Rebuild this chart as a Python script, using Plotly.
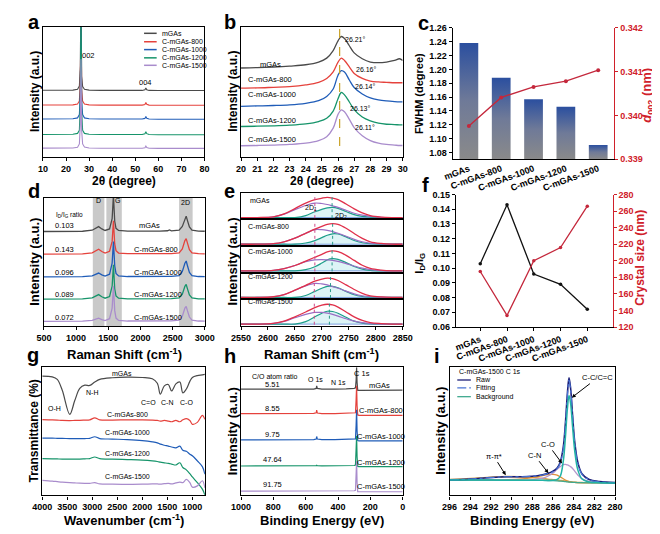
import plotly.graph_objects as go

W, H = 660, 534
FONT = "Liberation Sans"

# ---------------- data ----------------
names = ["mGAs", "C-mGAs-800", "C-mGAs-1000", "C-mGAs-1200", "C-mGAs-1500"]
colors = ["#4a4a4a", "#e5423c", "#1f5cb8", "#16946a", "#a98ccc"]

# (a) XRD wide scan
a_x = [10, 15, 20, 23, 25, 25.8, 26.2, 26.5, 26.8, 27.2, 28, 30, 35, 40, 45, 50, 53, 54.2, 54.6, 55.0, 56, 60, 70, 80]
a_mgas = [0.512, 0.511, 0.511, 0.513, 0.52, 0.545, 0.7, 1.3, 0.62, 0.54, 0.52, 0.513, 0.511, 0.51, 0.51, 0.51, 0.511, 0.516, 0.53, 0.516, 0.511, 0.51, 0.51, 0.51]
a_800 = [0.399, 0.398, 0.398, 0.4, 0.407, 0.43, 0.6, 1.1, 0.52, 0.43, 0.407, 0.4, 0.398, 0.397, 0.397, 0.397, 0.398, 0.403, 0.418, 0.404, 0.398, 0.397, 0.397, 0.397]
a_1000 = [0.292, 0.291, 0.291, 0.293, 0.3, 0.325, 0.5, 1.05, 0.43, 0.325, 0.3, 0.293, 0.291, 0.29, 0.29, 0.29, 0.291, 0.296, 0.31, 0.297, 0.291, 0.29, 0.29, 0.29]
a_1200 = [0.173, 0.172, 0.172, 0.174, 0.181, 0.205, 0.42, 1.2, 0.35, 0.205, 0.181, 0.174, 0.172, 0.171, 0.171, 0.171, 0.172, 0.178, 0.193, 0.179, 0.172, 0.171, 0.171, 0.171]
a_1500 = [0.068, 0.067, 0.067, 0.069, 0.075, 0.1, 0.25, 0.75, 0.2, 0.1, 0.076, 0.069, 0.067, 0.066, 0.066, 0.066, 0.067, 0.071, 0.083, 0.072, 0.067, 0.066, 0.066, 0.066]
a_peak_labels = ["002", "004"]

# (b) XRD (002) detail
b_x = [20, 21, 22, 23, 24, 24.8, 25.3, 25.7, 26.0, 26.2, 26.4, 26.7, 27.0, 27.5, 28, 28.5, 29, 29.5, 29.8, 30]
b_mgas = [0.683, 0.686, 0.691, 0.698, 0.708, 0.729, 0.759, 0.817, 0.892, 0.925, 0.910, 0.854, 0.799, 0.754, 0.729, 0.724, 0.729, 0.741, 0.754, 0.741]
b_800 = [0.528, 0.530, 0.535, 0.540, 0.553, 0.573, 0.603, 0.653, 0.728, 0.759, 0.741, 0.691, 0.641, 0.603, 0.583, 0.576, 0.573, 0.570, 0.570, 0.570]
b_1000 = [0.389, 0.392, 0.395, 0.400, 0.412, 0.432, 0.465, 0.522, 0.628, 0.663, 0.653, 0.591, 0.533, 0.483, 0.453, 0.438, 0.430, 0.425, 0.423, 0.423]
b_1200 = [0.234, 0.236, 0.239, 0.244, 0.254, 0.272, 0.297, 0.352, 0.447, 0.495, 0.477, 0.422, 0.364, 0.307, 0.277, 0.259, 0.251, 0.249, 0.246, 0.246]
b_1500 = [0.086, 0.088, 0.091, 0.096, 0.106, 0.126, 0.156, 0.221, 0.327, 0.362, 0.347, 0.289, 0.226, 0.163, 0.126, 0.106, 0.096, 0.091, 0.088, 0.088]
b_peak_pos = ["26.21°", "26.16°", "26.14°", "26.13°", "26.11°"]
b_ref_line = 26.1

# (c) FWHM and d002
c_fwhm = [1.238, 1.188, 1.157, 1.146, 1.091]
c_d002 = [0.33976, 0.34041, 0.34065, 0.34078, 0.34103]

# (d) Raman spectra
d_x = [500, 800, 1100, 1250, 1300, 1350, 1400, 1450, 1520, 1560, 1580, 1600, 1620, 1660, 1800, 2000, 2300, 2420, 2450, 2480, 2600, 2650, 2690, 2710, 2730, 2760, 2800, 2900, 3000]
d_mgas = [0.737, 0.737, 0.739, 0.747, 0.759, 0.775, 0.757, 0.745, 0.757, 0.837, 1.02, 0.817, 0.762, 0.745, 0.740, 0.739, 0.740, 0.743, 0.749, 0.742, 0.747, 0.777, 0.842, 0.857, 0.822, 0.772, 0.747, 0.740, 0.739]
d_800 = [0.561, 0.561, 0.563, 0.571, 0.583, 0.599, 0.581, 0.569, 0.583, 0.66, 0.821, 0.64, 0.588, 0.569, 0.564, 0.563, 0.564, 0.565, 0.566, 0.565, 0.571, 0.601, 0.666, 0.681, 0.646, 0.596, 0.571, 0.564, 0.563]
d_1000 = [0.383, 0.383, 0.385, 0.391, 0.400, 0.413, 0.399, 0.39, 0.404, 0.49, 0.658, 0.47, 0.41, 0.391, 0.386, 0.385, 0.386, 0.387, 0.388, 0.387, 0.393, 0.425, 0.49, 0.507, 0.47, 0.418, 0.393, 0.386, 0.385]
d_1200 = [0.209, 0.209, 0.211, 0.219, 0.23, 0.245, 0.228, 0.217, 0.23, 0.31, 0.477, 0.29, 0.235, 0.217, 0.212, 0.211, 0.212, 0.213, 0.214, 0.213, 0.219, 0.248, 0.31, 0.324, 0.29, 0.243, 0.219, 0.212, 0.211]
d_1500 = [0.036, 0.036, 0.038, 0.044, 0.052, 0.061, 0.05, 0.043, 0.057, 0.14, 0.311, 0.12, 0.062, 0.044, 0.039, 0.038, 0.039, 0.04, 0.041, 0.04, 0.046, 0.076, 0.14, 0.153, 0.118, 0.07, 0.046, 0.039, 0.038]
d_band_names = ["D", "G", "2D"]
d_band_lo = [1260, 1470, 2600]
d_band_hi = [1440, 1710, 2810]
d_ratio = ["0.103", "0.143", "0.096", "0.089", "0.072"]

# (e) 2D band fitting, one box per sample
e_x = [2550, 2580, 2610, 2630, 2650, 2670, 2687, 2700, 2710, 2720, 2730, 2745, 2760, 2775, 2790, 2810, 2830, 2850]
e_total = [
    [0, 0, 0.03, 0.15, 0.37, 0.60, 0.74, 0.80, 0.83, 0.80, 0.74, 0.56, 0.36, 0.19, 0.08, 0.02, 0, 0],
    [0, 0, 0.02, 0.10, 0.25, 0.45, 0.62, 0.74, 0.82, 0.85, 0.82, 0.66, 0.44, 0.24, 0.10, 0.03, 0, 0],
    [0, 0, 0.02, 0.09, 0.22, 0.40, 0.56, 0.68, 0.78, 0.82, 0.79, 0.64, 0.43, 0.23, 0.10, 0.03, 0, 0],
    [0, 0, 0.03, 0.12, 0.30, 0.50, 0.67, 0.76, 0.80, 0.78, 0.70, 0.52, 0.33, 0.17, 0.07, 0.02, 0, 0],
    [0, 0, 0.03, 0.12, 0.30, 0.50, 0.68, 0.78, 0.82, 0.79, 0.70, 0.50, 0.30, 0.15, 0.06, 0.02, 0, 0],
]
e_2d1 = [
    [0, 0, 0.03, 0.14, 0.33, 0.50, 0.60, 0.58, 0.54, 0.48, 0.42, 0.30, 0.18, 0.10, 0.05, 0.01, 0, 0],
    [0, 0, 0.02, 0.10, 0.25, 0.45, 0.60, 0.60, 0.57, 0.52, 0.45, 0.33, 0.20, 0.10, 0.04, 0.01, 0, 0],
    [0, 0, 0.02, 0.09, 0.22, 0.38, 0.45, 0.46, 0.45, 0.43, 0.39, 0.30, 0.20, 0.11, 0.05, 0.01, 0, 0],
    [0, 0, 0.03, 0.12, 0.30, 0.48, 0.58, 0.56, 0.52, 0.45, 0.38, 0.26, 0.15, 0.07, 0.03, 0.01, 0, 0],
    [0, 0, 0.03, 0.11, 0.26, 0.40, 0.48, 0.48, 0.45, 0.40, 0.33, 0.22, 0.12, 0.06, 0.02, 0, 0, 0],
]
e_2d2 = [
    [0, 0, 0, 0, 0, 0.08, 0.24, 0.34, 0.40, 0.42, 0.38, 0.25, 0.12, 0.05, 0.02, 0, 0, 0],
    [0, 0, 0, 0, 0, 0.05, 0.15, 0.27, 0.37, 0.43, 0.42, 0.30, 0.15, 0.06, 0.02, 0, 0, 0],
    [0, 0, 0, 0, 0, 0.05, 0.17, 0.32, 0.45, 0.50, 0.47, 0.34, 0.18, 0.07, 0.02, 0, 0, 0],
    [0, 0, 0, 0, 0, 0.08, 0.25, 0.38, 0.46, 0.46, 0.40, 0.25, 0.11, 0.04, 0.01, 0, 0, 0],
    [0, 0, 0, 0, 0, 0.10, 0.30, 0.45, 0.53, 0.52, 0.45, 0.28, 0.12, 0.04, 0.01, 0, 0, 0],
]
e_baseline = [0.0] * 18
e_2d1_pos = [2687, 2687, 2687, 2686, 2686]
e_2d2_pos = [2719, 2720, 2719, 2716, 2714]

# (f) ID/IG and crystal size
f_id_ig = [0.103, 0.143, 0.096, 0.089, 0.072]
f_size = [187, 134, 200, 216, 266]

# (g) FTIR
g_x = [4000, 3800, 3700, 3600, 3450, 3350, 3250, 3150, 3050, 2950, 2850, 2600, 2300, 2000, 1800, 1700, 1640, 1560, 1480, 1415, 1330, 1250, 1190, 1120, 1050, 1000, 900, 800, 750]
g_mgas = [0.931, 0.925, 0.905, 0.82, 0.633, 0.74, 0.835, 0.86, 0.858, 0.885, 0.905, 0.918, 0.923, 0.92, 0.91, 0.875, 0.79, 0.855, 0.865, 0.815, 0.87, 0.885, 0.80, 0.83, 0.89, 0.92, 0.935, 0.94, 0.944]
g_800 = [0.592, 0.59, 0.588, 0.585, 0.584, 0.585, 0.586, 0.588, 0.59, 0.605, 0.59, 0.588, 0.59, 0.59, 0.588, 0.585, 0.58, 0.585, 0.58, 0.575, 0.585, 0.575, 0.59, 0.60, 0.585, 0.555, 0.57, 0.625, 0.595]
g_1000 = [0.447, 0.447, 0.446, 0.445, 0.444, 0.443, 0.443, 0.444, 0.446, 0.458, 0.444, 0.440, 0.436, 0.428, 0.418, 0.410, 0.400, 0.392, 0.385, 0.378, 0.372, 0.385, 0.352, 0.345, 0.322, 0.31, 0.27, 0.225, 0.166]
g_1200 = [0.287, 0.286, 0.285, 0.284, 0.283, 0.283, 0.284, 0.286, 0.288, 0.30, 0.287, 0.283, 0.28, 0.276, 0.27, 0.265, 0.26, 0.255, 0.25, 0.245, 0.238, 0.255, 0.218, 0.20, 0.17, 0.145, 0.10, 0.05, 0.005]
g_1500 = [0.118, 0.112, 0.108, 0.104, 0.10, 0.098, 0.096, 0.095, 0.095, 0.10, 0.09, 0.088, 0.087, 0.088, 0.09, 0.09, 0.088, 0.092, 0.095, 0.09, 0.098, 0.105, 0.10, 0.125, 0.10, 0.065, 0.075, 0.115, 0.06]
g_bands = ["O-H", "N-H", "C=O", "C-N", "C-O"]

# (h) XPS survey
h_x = [1000, 900, 800, 700, 600, 550, 535, 532, 528, 500, 420, 400, 350, 300, 292, 288, 285, 282, 278, 270, 200, 100, 0]
h_mgas = [0.829, 0.829, 0.829, 0.829, 0.83, 0.83, 0.835, 0.855, 0.835, 0.83, 0.83, 0.832, 0.832, 0.835, 0.84, 0.9, 1.0, 0.88, 0.82, 0.82, 0.822, 0.822, 0.822]
h_800 = [0.638, 0.638, 0.638, 0.638, 0.639, 0.64, 0.645, 0.665, 0.643, 0.639, 0.639, 0.64, 0.64, 0.642, 0.645, 0.75, 0.855, 0.70, 0.628, 0.625, 0.625, 0.625, 0.625]
h_1000 = [0.434, 0.434, 0.434, 0.434, 0.435, 0.435, 0.44, 0.46, 0.44, 0.435, 0.435, 0.436, 0.436, 0.438, 0.442, 0.55, 0.669, 0.50, 0.428, 0.426, 0.426, 0.426, 0.426]
h_1200 = [0.230, 0.230, 0.230, 0.230, 0.231, 0.231, 0.232, 0.236, 0.232, 0.231, 0.231, 0.232, 0.232, 0.234, 0.238, 0.35, 0.464, 0.30, 0.226, 0.225, 0.225, 0.225, 0.225]
h_1500 = [0.034, 0.034, 0.034, 0.034, 0.034, 0.034, 0.035, 0.036, 0.035, 0.034, 0.034, 0.035, 0.035, 0.037, 0.04, 0.15, 0.268, 0.10, 0.03, 0.029, 0.029, 0.029, 0.029]
h_co_ratio = ["5.51", "8.55", "9.75", "47.64", "91.75"]

# (i) C 1s fitting of C-mGAs-1500
i_x = [296, 294, 292, 290.5, 289, 288, 287, 286.5, 286, 285.6, 285.3, 285.0, 284.8, 284.6, 284.45, 284.3, 284.1, 283.9, 283.6, 283.2, 282.5, 281.5, 280]
i_raw = [0.122, 0.128, 0.14, 0.146, 0.146, 0.15, 0.162, 0.172, 0.19, 0.215, 0.26, 0.38, 0.56, 0.80, 0.918, 0.84, 0.62, 0.42, 0.26, 0.17, 0.125, 0.108, 0.1]
i_fit = [0.122, 0.128, 0.14, 0.146, 0.146, 0.15, 0.16, 0.17, 0.185, 0.21, 0.25, 0.36, 0.54, 0.78, 0.90, 0.83, 0.61, 0.41, 0.25, 0.165, 0.122, 0.106, 0.099]
i_bg = [0.12, 0.12, 0.12, 0.119, 0.119, 0.118, 0.118, 0.117, 0.116, 0.114, 0.112, 0.11, 0.108, 0.106, 0.105, 0.104, 0.103, 0.102, 0.101, 0.1, 0.099, 0.098, 0.097]
i_cc = [0.12, 0.12, 0.12, 0.119, 0.119, 0.118, 0.118, 0.117, 0.118, 0.125, 0.15, 0.27, 0.45, 0.68, 0.78, 0.72, 0.53, 0.35, 0.2, 0.13, 0.105, 0.1, 0.097]
i_co = [0.12, 0.12, 0.12, 0.119, 0.12, 0.123, 0.135, 0.15, 0.175, 0.205, 0.225, 0.24, 0.243, 0.238, 0.232, 0.225, 0.21, 0.19, 0.16, 0.13, 0.11, 0.1, 0.097]
i_cn = [0.12, 0.12, 0.121, 0.123, 0.13, 0.14, 0.155, 0.163, 0.165, 0.158, 0.145, 0.13, 0.12, 0.112, 0.108, 0.105, 0.103, 0.102, 0.101, 0.1, 0.1, 0.1, 0.097]
i_pp = [0.125, 0.132, 0.142, 0.147, 0.145, 0.14, 0.132, 0.127, 0.123, 0.12, 0.117, 0.114, 0.112, 0.11, 0.108, 0.106, 0.104, 0.103, 0.101, 0.1, 0.1, 0.1, 0.097]

# ---------------- helpers ----------------
def dx(l, r):
    return [l / W, r / W]

def dy(t, b):
    return [1 - b / H, 1 - t / H]

def PX(x):
    return x / W

def PY(y):
    return 1 - y / H

TICKF = dict(family=FONT, size=9, color="black", weight="bold")
RED = "#d0202a"

def boxax(**kw):
    d = dict(showline=True, linecolor="black", linewidth=1.2, mirror=True,
             ticks="outside", ticklen=3, tickwidth=1, tickcolor="black",
             showgrid=False, zeroline=False, tickfont=TICKF)
    d.update(kw)
    return d

def noy(**kw):
    d = dict(showline=True, linecolor="black", linewidth=1.2, mirror=True,
             ticks="", showticklabels=False, showgrid=False, zeroline=False,
             range=[0, 1])
    d.update(kw)
    return d

fig = go.Figure()
ann = []
shapes = []

def text(t, x, y, size=7.5, color="black", bold=False, angle=0, xanchor="center"):
    ann.append(dict(text=t, x=PX(x), y=PY(y), xref="paper", yref="paper", showarrow=False,
                    font=dict(family=FONT, size=size, color=color, weight="bold" if bold else "normal"),
                    textangle=angle, xanchor=xanchor, yanchor="middle"))

def arrow(t, lx, ly, hx, hy, size=7.5):
    ann.append(dict(text=t, x=PX(hx), y=PY(hy), xref="paper", yref="paper", showarrow=True,
                    ax=lx - hx, ay=ly - hy, arrowhead=2, arrowsize=0.8, arrowwidth=1, arrowcolor="black",
                    font=dict(family=FONT, size=size, color="black")))

def lines(x, y, xa, ya, color, width=1.2, dash="solid", shape="linear", **kw):
    fig.add_trace(go.Scatter(x=x, y=y, mode="lines", xaxis=xa, yaxis=ya,
                             line=dict(color=color, width=width, dash=dash, shape=shape), **kw))

layout = dict(width=W, height=H, margin=dict(l=0, r=0, t=0, b=0), paper_bgcolor="white",
              plot_bgcolor="white", showlegend=False, font=dict(family=FONT, size=9, color="black"))

# ---------------- (a) ----------------
layout["xaxis"] = boxax(domain=dx(25.7, 192.3), anchor="y", range=[10, 80], dtick=10)
layout["yaxis"] = noy(domain=dy(14, 146.7), anchor="x")
for ys, c in zip([a_mgas, a_800, a_1000, a_1200, a_1500], colors):
    lines(a_x, ys, "x", "y", c, 1.1)
text(a_peak_labels[0], 73, 43, 7.5)
text(a_peak_labels[1], 131, 71, 7.5)
for k, (n, c) in enumerate(zip(names, colors)):
    yy = [20.7, 29.3, 37.3, 45.7, 53.3][k]
    shapes.append(dict(type="line", xref="paper", yref="paper", x0=PX(130), x1=PX(143), y0=PY(yy), y1=PY(yy),
                       line=dict(color=c, width=1.5)))
    text(n, 146, yy, 7, xanchor="left")

# ---------------- (b) ----------------
layout["xaxis2"] = boxax(domain=dx(230, 396.7), anchor="y2", range=[20, 30], dtick=1)
layout["yaxis2"] = noy(domain=dy(14, 146.7), anchor="x2")
for ys, c in zip([b_mgas, b_800, b_1000, b_1200, b_1500], colors):
    lines(b_x, ys, "x2", "y2", c, 1.3, shape="spline")
shapes.append(dict(type="line", xref="x2", yref="y2", x0=b_ref_line, x1=b_ref_line, y0=0.085, y1=0.99,
                   line=dict(color="#c9a227", width=1.2, dash="dash")))
for k, n in enumerate(names):
    yy = [52, 68, 83, 110, 129][k]
    text(n, 247 if k == 0 else 235, yy, 7.5, xanchor="left")
for k, t in enumerate(b_peak_pos):
    xx, yy = [(335, 27), (347, 58), (345, 75), (340, 97), (345, 117)][k]
    text(t, xx, yy, 7, xanchor="left")

# ---------------- (c) ----------------
C_LO, C_HI = 1.0705, 1.26
layout["xaxis3"] = boxax(domain=dx(448.3, 615), anchor="y3", range=[-0.5, 4.5], mirror=False,
                         tickvals=list(range(5)), ticktext=names, tickangle=-20, ticks="")
layout["yaxis3"] = boxax(domain=dy(15, 149), anchor="x3", range=[C_LO, C_HI], dtick=0.02,
                         tickformat=".2f", mirror=False)
layout["yaxis4"] = boxax(domain=dy(15, 149), anchor="x3", overlaying="y3", side="right",
                         range=[0.339, 0.342], dtick=0.001, tickformat=".3f", mirror=False,
                         linecolor=RED, tickcolor=RED, tickfont=dict(TICKF, color=RED))
BW = 0.58
for k, v in enumerate(c_fwhm):
    fig.add_trace(go.Scatter(x=[k - BW / 2, k - BW / 2, k + BW / 2, k + BW / 2, k - BW / 2],
                             y=[C_LO, v, v, C_LO, C_LO], mode="lines", fill="toself",
                             line=dict(width=0, color="rgba(0,0,0,0)"), xaxis="x3", yaxis="y3",
                             fillgradient=dict(type="vertical",
                                               colorscale=[[0, "#8a8a8a"], [0.5, "#6f7a98"], [1, "#2b4f9f"]])))
fig.add_trace(go.Scatter(x=list(range(5)), y=c_d002, mode="lines+markers", xaxis="x3", yaxis="y4",
                         line=dict(color="#c4283c", width=1.3), marker=dict(size=4, color="#c4283c")))

# ---------------- (d) ----------------
layout["xaxis4"] = boxax(domain=dx(26.7, 192.7), anchor="y5", range=[500, 3000], dtick=500)
layout["yaxis5"] = noy(domain=dy(188.3, 319), anchor="x4")
for lo, hi in zip(d_band_lo, d_band_hi):
    shapes.append(dict(type="rect", xref="x4", yref="y5 domain", x0=lo, x1=hi, y0=0, y1=1,
                       fillcolor="#c9c9c9", line=dict(width=0), layer="below"))
for ys, c in zip([d_mgas, d_800, d_1000, d_1200, d_1500], colors):
    lines(d_x, ys, "x4", "y5", c, 1.3)
text(d_band_names[0], 83, 191, 7)
text(d_band_names[1], 103, 191, 7)
text(d_band_names[2], 173, 193, 7)
text("I<sub>D</sub>/I<sub>G</sub> ratio", 37, 206, 6.5, xanchor="left")
for k, (r, n) in enumerate(zip(d_ratio, names)):
    yy = [217, 241, 264, 287, 310][k]
    text(r, 48, yy, 7.5)
    text(n, 123 if k == 0 else 118, yy, 7.5, xanchor="left")

# ---------------- (e) ----------------
E_T, E_B = 183.3, 319.0
eh = (E_B - E_T) / 5
for k in range(5):
    xa = "x%d" % (5 + k)
    ya = "y%d" % (6 + k)
    t = E_T + k * eh
    xkey = "xaxis%d" % (5 + k)
    ykey = "yaxis%d" % (6 + k)
    if k == 4:
        layout[xkey] = boxax(domain=dx(230, 396.7), anchor=ya, range=[2550, 2850], dtick=50, linewidth=1.0)
    else:
        layout[xkey] = boxax(domain=dx(230, 396.7), anchor=ya, range=[2550, 2850], dtick=50,
                             showticklabels=False, ticks="", matches="x5", linewidth=1.0)
    layout[ykey] = noy(domain=dy(t, t + eh), anchor=xa, range=[-0.08, 1.02], linewidth=1.0)
    lines(e_x, e_baseline, xa, ya, "#5a7fd8", 0.8)
    lines(e_x, e_2d2[k], xa, ya, "#1d9e8a", 1.2, shape="spline",
          fill="tozeroy", fillcolor="rgba(120,210,220,0.25)")
    lines(e_x, e_2d1[k], xa, ya, "#9a6fc4", 1.2, shape="spline")
    lines(e_x, e_total[k], xa, ya, "#e0304a", 1.3, shape="spline")
    shapes.append(dict(type="line", xref=xa, yref=ya + " domain", x0=e_2d1_pos[k], x1=e_2d1_pos[k],
                       y0=0.05, y1=0.95, line=dict(color="#d04a8a", width=1, dash="dot")))
    shapes.append(dict(type="line", xref=xa, yref=ya + " domain", x0=e_2d2_pos[k], x1=e_2d2_pos[k],
                       y0=0.05, y1=0.95, line=dict(color="#2a9a8a", width=1, dash="dot")))
    text(names[k], 235 if k else 237, [191, 218, 243, 269, 294][k], 7, xanchor="left")
text("2D<sub>1</sub>", 302, 199, 7)
text("2D<sub>2</sub>", 333, 207, 7)

# ---------------- (f) ----------------
layout["xaxis10"] = boxax(domain=dx(451.7, 613.3), anchor="y11", range=[-0.906, 4.95], mirror=False,
                          tickvals=list(range(5)), ticktext=names, tickangle=-20)
layout["yaxis11"] = boxax(domain=dy(185, 320), anchor="x10", range=[0.06, 0.15], dtick=0.01,
                          tickformat=".2f", mirror=False)
layout["yaxis12"] = boxax(domain=dy(185, 320), anchor="x10", overlaying="y11", side="right",
                          range=[120, 280], dtick=20, mirror=False,
                          linecolor=RED, tickcolor=RED, tickfont=dict(TICKF, color=RED))
fig.add_trace(go.Scatter(x=list(range(5)), y=f_id_ig, mode="lines+markers", xaxis="x10", yaxis="y11",
                         line=dict(color="#111111", width=1.3), marker=dict(size=3.5, color="#111111")))
fig.add_trace(go.Scatter(x=list(range(5)), y=f_size, mode="lines+markers", xaxis="x10", yaxis="y12",
                         line=dict(color="#c4283c", width=1.3), marker=dict(size=3.5, color="#c4283c")))

# ---------------- (g) ----------------
layout["xaxis11"] = boxax(domain=dx(25, 192.7), anchor="y13", range=[4000, 750],
                          tickvals=[4000, 3500, 3000, 2500, 2000, 1500, 1000])
layout["yaxis13"] = noy(domain=dy(361, 491.7), anchor="x11")
for ys, c in zip([g_mgas, g_800, g_1000, g_1200, g_1500], colors):
    lines(g_x, ys, "x11", "y13", c, 1.2, shape="spline")
text(names[0], 107, 367, 7)
for k, n in enumerate(names[1:]):
    text(n, 113, [409, 427, 449, 472][k], 7)
text(g_bands[0], 38, 403, 7)
text(g_bands[1], 76, 387, 7)
text(g_bands[2], 135, 397, 7)
text(g_bands[3], 154, 397, 7)
text(g_bands[4], 174, 397, 7)

# ---------------- (h) ----------------
layout["xaxis12"] = boxax(domain=dx(230, 396.7), anchor="y14", range=[1000, 0], dtick=200)
layout["yaxis14"] = noy(domain=dy(361, 491.7), anchor="x12")
for ys, c in zip([h_mgas, h_800, h_1000, h_1200, h_1500], colors):
    lines(h_x, ys, "x12", "y14", c, 1.2)
text("C/O atom ratio", 265, 370, 7)
text("O 1s", 307, 373, 7)
text("N 1s", 330, 377, 7)
text("C 1s", 355, 367, 7.5)
text(names[0], 373, 380, 7.5)
for k, r in enumerate(h_co_ratio):
    text(r, 262, [379, 403, 430, 455, 481][k], 7.5)
for k, n in enumerate(names[1:]):
    text(n, 374, [405, 432, 458, 483][k], 7.5)

# ---------------- (i) ----------------
layout["xaxis13"] = boxax(domain=dx(445, 615.7), anchor="y15", range=[296, 280], dtick=2)
layout["yaxis15"] = noy(domain=dy(361, 491.7), anchor="x13")
lines(i_x, i_pp, "x13", "y15", "#d6a24e", 1.6, shape="spline")
lines(i_x, i_cn, "x13", "y15", "#e0913a", 1.3, shape="spline")
lines(i_x, i_co, "x13", "y15", "#b496cc", 1.3, shape="spline")
lines(i_x, i_bg, "x13", "y15", "#3fa98f", 1.3, shape="spline")
lines(i_x, i_raw, "x13", "y15", "#1c1f78", 1.6, shape="spline")
lines(i_x, i_fit, "x13", "y15", "#4a74d4", 1.2, dash="dashdot", shape="spline")
lines(i_x, i_cc, "x13", "y15", "#22b3a6", 1.5, shape="spline")
text("C-mGAs-1500 C 1s", 453, 365, 7, xanchor="left")
for k, (lab, col, ds) in enumerate([("Raw", "#1c1f78", "solid"), ("Fitting", "#4a74d4", "dashdot"),
                                    ("Background", "#3fa98f", "solid")]):
    yy = [374, 382, 391][k]
    shapes.append(dict(type="line", xref="paper", yref="paper", x0=PX(453), x1=PX(467), y0=PY(yy), y1=PY(yy),
                       line=dict(color=col, width=1.3, dash=ds)))
    text(lab, 470, yy, 7, xanchor="left")
arrow("C-C/C=C", 597, 372, 571, 392)
arrow("C-O", 547, 440, 561, 459)
arrow("C-N", 533, 451, 547, 469)
arrow("π-π*", 491, 452, 503, 471)

# ---------------- titles & panel letters ----------------
for L, x, y in [("a", 16, 9), ("b", 219, 9), ("c", 418, 10), ("d", 16, 181), ("e", 218, 181),
                ("f", 420, 175), ("g", 15, 349), ("h", 219, 350), ("i", 432, 350)]:
    text(L, x, y, 20, bold=True)

text("2θ (degree)", 109, 171, 12, bold=True)
text("2θ (degree)", 314, 171, 12, bold=True)
text("Intensity (a.u.)", 17, 80, 12, bold=True, angle=-90)
text("Intensity (a.u.)", 221, 80, 12, bold=True, angle=-90)
text("FWHM (degree)", 414, 82, 11, bold=True, angle=-90)
text("<i>d</i><sub>002</sub> (nm)", 649, 84, 13, color=RED, bold=True, angle=-90)
text("Raman Shift (cm<sup>-1</sup>)", 110, 348, 13, bold=True)
text("Raman Shift (cm<sup>-1</sup>)", 313, 348, 13, bold=True)
text("Intensity (a.u.)", 17, 253, 13, bold=True, angle=-90)
text("Intensity (a.u.)", 221, 253, 13, bold=True, angle=-90)
text("I<sub>D</sub>/I<sub>G</sub>", 415, 255, 11, bold=True, angle=-90)
text("Crystal size (nm)", 642, 250, 12, color=RED, bold=True, angle=-90)
text("Wavenumber (cm<sup>-1</sup>)", 109, 517, 13, bold=True)
text("Transmittance (%)", 17, 426, 12, bold=True, angle=-90)
text("Binding Energy (eV)", 313, 517, 13, bold=True)
text("Intensity (a.u.)", 221, 426, 13, bold=True, angle=-90)
text("Binding Energy (eV)", 530, 517, 13, bold=True)
text("Intensity (a.u.)", 435, 426, 13, bold=True, angle=-90)

layout["annotations"] = ann
layout["shapes"] = shapes
fig.update_layout(**layout)
fig.write_html("out.html")
